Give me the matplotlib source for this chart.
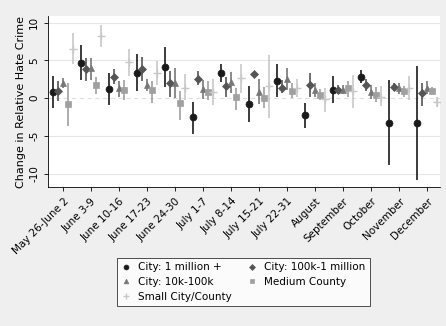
import matplotlib.pyplot as plt
import numpy as np

periods = ["May 26-June 2", "June 3-9", "June 10-16", "June 17-23", "June 24-30",
           "July 1-7", "July 8-14", "July 15-21", "July 22-31", "August",
           "September", "October", "November", "December"]

# point estimates and CI bounds per series
big_city = [0.88, 4.7, 1.23, 3.4, 4.1, -2.5, 3.3, -0.8, 2.33, -2.3, 1.1, 2.87, -3.23, -3.3]
big_city_lo = [-1.33, 2.4, -0.9, 1.0, 1.45, -4.7, 2.1, -3.2, 0.2, -3.98, -0.66, 2.07, -8.85, -10.8]
big_city_hi = [2.96, 7.1, 3.3, 5.9, 6.85, -0.45, 4.5, 1.63, 4.5, -0.66, 2.96, 3.75, 2.43, 4.2]

mid_city = [1.0, 3.85, 2.8, 3.85, 2.0, 2.55, 1.63, 3.2, 1.4, 1.77, 1.1, 1.77, 1.45, 0.75]
mid_city_lo = [-0.36, 2.3, 1.9, 2.3, 0.2, 1.7, 0.2, 2.95, 0.74, 0.2, 0.5, 1.0, 1.0, -1.0]
mid_city_hi = [2.3, 5.3, 3.85, 5.4, 3.65, 3.65, 2.8, 3.45, 2.4, 3.3, 1.77, 2.5, 2.0, 2.0]

small_city = [2.0, 4.0, 1.3, 1.7, 2.0, 1.23, 2.2, 0.88, 2.55, 1.1, 1.1, 0.8, 1.3, 1.3]
small_city_lo = [1.3, 2.4, 0.1, 1.0, 0.0, -0.1, 0.66, -0.75, 1.1, 0.2, 0.5, -0.13, 0.6, 0.5]
small_city_hi = [2.65, 5.3, 2.3, 2.55, 4.0, 2.4, 3.45, 2.5, 4.0, 2.0, 1.77, 1.77, 2.0, 2.3]

med_county = [-0.8, 1.7, 1.1, 1.1, -0.66, 0.88, 0.13, 0.0, 0.97, 0.44, 1.3, 0.44, 0.97, 0.97]
med_county_lo = [-3.7, 0.5, -0.3, -0.66, -2.9, -0.2, -1.55, -1.33, 0.0, -0.2, 0.2, -0.45, 0.2, 0.44]
med_county_hi = [2.0, 2.8, 2.4, 2.3, 1.0, 2.3, 1.3, 1.45, 2.0, 1.2, 2.3, 1.45, 1.63, 1.45]

small_county = [6.5, 8.3, 4.85, 3.4, 1.4, 0.88, 2.65, 1.55, 1.3, -0.1, 1.0, 0.2, 1.3, -0.45]
small_county_lo = [4.5, 6.8, 2.95, 1.75, -0.3, -0.9, 0.74, -2.65, 0.2, -1.77, -1.33, -1.0, -0.2, -1.2]
small_county_hi = [8.6, 9.7, 6.5, 4.95, 3.2, 2.55, 4.55, 5.75, 2.5, 1.3, 3.1, 1.63, 2.96, 0.2]

series = [
    ("City: 1 million +", big_city, big_city_lo, big_city_hi, "o", "#1a1a1a", 5),
    ("City: 100k-1 million", mid_city, mid_city_lo, mid_city_hi, "D", "#555555", 4.3),
    ("City: 10k-100k", small_city, small_city_lo, small_city_hi, "^", "#777777", 4.8),
    ("Medium County", med_county, med_county_lo, med_county_hi, "s", "#a0a0a0", 4.5),
    ("Small City/County", small_county, small_county_lo, small_county_hi, "+", "#c8c8c8", 6),
]

fig = plt.figure(figsize=(4.46, 3.26), dpi=100)
fig.patch.set_facecolor("#efefef")
ax = fig.add_axes([0.108, 0.426, 0.879, 0.525])
ax.set_facecolor("white")

x = np.arange(1, len(periods) + 1)
offsets = [-0.36, -0.18, 0.0, 0.17, 0.34]

ax.axhline(0, color="#dddddd", lw=0.8, ls=(0, (4, 3)), zorder=0)
for yv in [10, 5, -5, -10]:
    ax.axhline(yv, color="#e6e6e6", lw=0.8, zorder=0)

handles = []
for (name, v, lo, hi, mk, col, ms), off in zip(series, offsets):
    v = np.array(v); lo = np.array(lo); hi = np.array(hi)
    ax.vlines(x + off, lo, hi, color=col, lw=1.2, zorder=2)
    h, = ax.plot(x + off, v, ls="none", marker=mk, color=col, ms=ms,
                 mew=1.0 if mk == "+" else 0.5, zorder=3, label=name)
    handles.append(h)

ax.set_xlim(0.46, 14.46)
ax.set_ylim(-11.8, 10.9)
ax.set_xticks(x)
ax.set_xticklabels(periods, rotation=45, ha="right", rotation_mode="anchor", fontsize=7.5)
ax.set_yticks([-10, -5, 0, 5, 10])
ax.set_yticklabels(["-10", "-5", "0", "5", "10"], rotation=90, va="center", fontsize=7.5)
ax.tick_params(length=3, width=0.6, colors="black")
for s in ["top", "right"]:
    ax.spines[s].set_visible(False)
for s in ["left", "bottom"]:
    ax.spines[s].set_linewidth(0.6)
ax.set_ylabel("Change in Relative Hate Crime", fontsize=8, labelpad=2)

# legend filled row-wise like the original: column 1 = 1M, 10k-100k, small; column 2 = 100k-1M, medium
order = [0, 2, 4, 1, 3]
leg = fig.legend(handles=[handles[i] for i in order], loc="center", bbox_to_anchor=(0.546, 0.135), ncol=2,
                 fontsize=7.5, frameon=True, fancybox=False, markerscale=0.7,
                 handlelength=0.8, handletextpad=0.7, columnspacing=1.6,
                 borderpad=0.45, labelspacing=0.45)
leg.get_frame().set_edgecolor("black")
leg.get_frame().set_linewidth(0.6)

plt.savefig("out.png", dpi=100, facecolor=fig.get_facecolor())
